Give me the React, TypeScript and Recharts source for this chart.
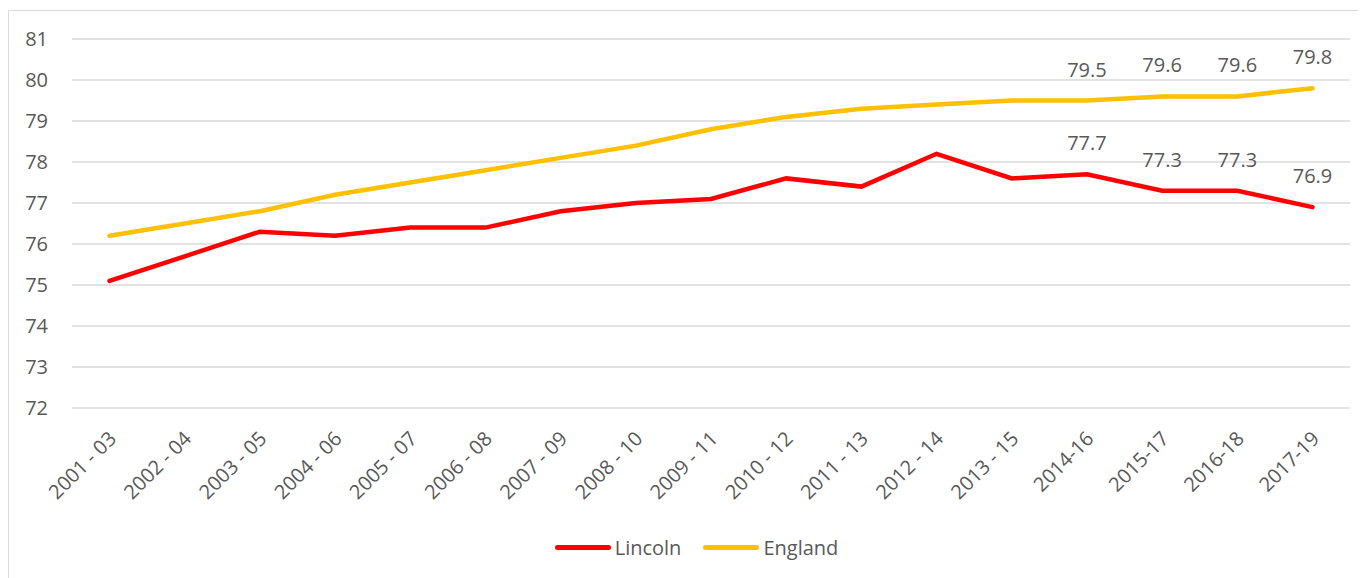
import { CartesianGrid, LabelList, Legend, Line, LineChart, XAxis, YAxis } from "recharts";

const periods = [
  "2001 - 03", "2002 - 04", "2003 - 05", "2004 - 06", "2005 - 07", "2006 - 08",
  "2007 - 09", "2008 - 10", "2009 - 11", "2010 - 12", "2011 - 13", "2012 - 14",
  "2013 - 15", "2014-16", "2015-17", "2016-18", "2017-19",
];
const lincoln = [75.1, 75.7, 76.3, 76.2, 76.4, 76.4, 76.8, 77.0, 77.1, 77.6, 77.4, 78.2, 77.6, 77.7, 77.3, 77.3, 76.9];
const england = [76.2, 76.5, 76.8, 77.2, 77.5, 77.8, 78.1, 78.4, 78.8, 79.1, 79.3, 79.4, 79.5, 79.5, 79.6, 79.6, 79.8];
const yTicks = [72, 73, 74, 75, 76, 77, 78, 79, 80, 81];
const firstLabelled = 13;

const TEXT = "#595959";
const FONT = "'Open Sans', sans-serif";

const data = periods.map((period, i) => ({ period, lincoln: lincoln[i], england: england[i] }));

function XTick({ x, y, payload }: any) {
  return (
    <g transform={`translate(${x + 8},${y + 32})`}>
      <text x={0} y={0} textAnchor="end" transform="rotate(-45)" fill={TEXT} fontSize={20} fontFamily={FONT}>
        {payload.value}
      </text>
    </g>
  );
}

function PointLabel({ x, y, value, index }: any) {
  if (index < firstLabelled) return null;
  return (
    <text x={x} y={y - 24} textAnchor="middle" fill={TEXT} fontSize={20} fontFamily={FONT}>
      {value}
    </text>
  );
}

function ChartLegend() {
  const items = [
    { name: "Lincoln", color: "#FF0000" },
    { name: "England", color: "#FFC000" },
  ];
  return (
    <div style={{ display: "flex", justifyContent: "center", alignItems: "center", height: 40, paddingLeft: 34 }}>
      {items.map((item) => (
        <div key={item.name} style={{ display: "flex", alignItems: "center", margin: "0 11px" }}>
          <div style={{ width: 56, height: 5, borderRadius: 3, background: item.color, marginRight: 4 }} />
          <span style={{ color: TEXT, fontSize: 20, fontFamily: FONT }}>{item.name}</span>
        </div>
      ))}
    </div>
  );
}

export default function App() {
  return (
    <div style={{ border: "1px solid #d9d9d9", width: 1356, height: 568, marginTop: 2, background: "#fff" }}>
      <LineChart width={1356} height={568} data={data} margin={{ top: 28, right: 15, bottom: 12, left: 0 }}>
        <CartesianGrid vertical={false} stroke="#d9d9d9" strokeWidth={1.5} />
        <XAxis
          dataKey="period"
          axisLine={false}
          tickLine={false}
          tickSize={0}
          tickMargin={0}
          height={119}
          interval={0}
          padding={{ left: 37.5, right: 37.5 }}
          tick={<XTick />}
        />
        <YAxis
          domain={[72, 81]}
          ticks={yTicks}
          width={63}
          axisLine={false}
          tickLine={false}
          tickSize={0}
          tickMargin={24}
          tick={{ fill: TEXT, fontSize: 20, fontFamily: FONT }}
        />
        <Legend verticalAlign="bottom" content={<ChartLegend />} />
        <Line type="linear" dataKey="lincoln" name="Lincoln" stroke="#FF0000" strokeWidth={4.5} strokeLinecap="round" dot={false} isAnimationActive={false}>
          <LabelList dataKey="lincoln" content={<PointLabel />} />
        </Line>
        <Line type="linear" dataKey="england" name="England" stroke="#FFC000" strokeWidth={4.5} strokeLinecap="round" dot={false} isAnimationActive={false}>
          <LabelList dataKey="england" content={<PointLabel />} />
        </Line>
      </LineChart>
    </div>
  );
}
